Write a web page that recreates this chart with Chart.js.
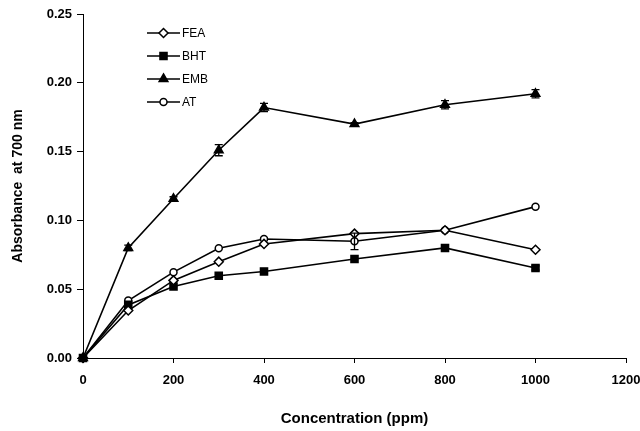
<!DOCTYPE html>
<html><head><meta charset="utf-8">
<script src="https://cdn.jsdelivr.net/npm/chart.js@4.4.1/dist/chart.umd.min.js"></script>
<style>html,body{margin:0;padding:0;background:#fff}#wrap{width:640px;height:431px}</style>
</head><body><div id="wrap"><canvas id="c" width="640" height="431"></canvas></div>
<script>
const concentrations = [0, 100, 200, 300, 400, 600, 800, 1000];
const feaValues = [0, 0.0345, 0.0564, 0.070, 0.0829, 0.0904, 0.0928, 0.0787];
const bhtValues = [0, 0.0386, 0.052, 0.0598, 0.0629, 0.072, 0.080, 0.0654];
const embValues = [0, 0.080, 0.1157, 0.151, 0.182, 0.170, 0.184, 0.192];
const atValues  = [0, 0.0418, 0.0624, 0.0797, 0.0865, 0.0848, 0.0928, 0.110];
const embErrors = [0, 0.002, 0.0015, 0.004, 0.003, 0.001, 0.003, 0.003];
const atErrors  = [0, 0, 0, 0, 0, 0.006, 0, 0];
const bhtErrors = [0, 0, 0, 0, 0, 0, 0, 0.0015];
const xTickValues = [0, 200, 400, 600, 800, 1000, 1200];
const yTickValues = [0, 0.05, 0.10, 0.15, 0.20, 0.25];
const seriesNames = ['FEA', 'BHT', 'EMB', 'AT'];

function pts(vals) { return concentrations.map((x, i) => ({x: x, y: vals[i]})); }

const FONT = "'Liberation Sans', Arial, sans-serif";

const styles = [
  {pointStyle: 'rectRot', radius: 4.5, bg: '#fff'},
  {pointStyle: 'rect', radius: 5, bg: '#000'},
  {pointStyle: 'triangle', radius: 5, bg: '#000'},
  {pointStyle: 'circle', radius: 3.5, bg: '#fff'}
];
const valueSets = [feaValues, bhtValues, embValues, atValues];
const errorSets = [null, bhtErrors, embErrors, atErrors];

const datasets = seriesNames.map((name, i) => ({
  label: name,
  data: pts(valueSets[i]),
  borderColor: '#000',
  backgroundColor: styles[i].bg,
  legendBg: styles[i].bg,
  pointBackgroundColor: c => (c.dataIndex === 0 ? '#000' : styles[i].bg),
  pointBorderColor: '#000',
  pointBorderWidth: 1.5,
  borderWidth: 1.6,
  pointStyle: styles[i].pointStyle,
  pointRadius: styles[i].radius,
  pointHoverRadius: styles[i].radius,
  errors: errorSets[i],
  tension: 0,
  fill: false,
  clip: false
}));

function drawMarker(ctx, style, r, bg, x, y) {
  ctx.save();
  ctx.fillStyle = bg; ctx.strokeStyle = '#000'; ctx.lineWidth = 1.5;
  ctx.beginPath();
  if (style === 'circle') { ctx.arc(x, y, r, 0, Math.PI * 2); }
  else if (style === 'rect') { const s = r * Math.SQRT1_2 * 2; ctx.rect(x - s/2, y - s/2, s, s); }
  else if (style === 'rectRot') { ctx.moveTo(x, y - r); ctx.lineTo(x + r, y); ctx.lineTo(x, y + r); ctx.lineTo(x - r, y); ctx.closePath(); }
  else if (style === 'triangle') { ctx.moveTo(x, y - r); ctx.lineTo(x + r * 0.87, y + r * 0.5); ctx.lineTo(x - r * 0.87, y + r * 0.5); ctx.closePath(); }
  ctx.fill(); ctx.stroke();
  ctx.restore();
}

const errorBarPlugin = {
  id: 'errorBars',
  afterDatasetsDraw(chart) {
    const ctx = chart.ctx, xs = chart.scales.x, ys = chart.scales.y;
    ctx.save();
    ctx.strokeStyle = '#000'; ctx.lineWidth = 1.3;
    chart.data.datasets.forEach(ds => {
      if (!ds.errors) return;
      ds.data.forEach((p, i) => {
        const e = ds.errors[i];
        if (!e) return;
        const px = xs.getPixelForValue(p.x);
        const y1 = ys.getPixelForValue(p.y + e), y2 = ys.getPixelForValue(p.y - e);
        ctx.beginPath();
        ctx.moveTo(px, y1); ctx.lineTo(px, y2);
        ctx.moveTo(px - 4, y1); ctx.lineTo(px + 4, y1);
        ctx.moveTo(px - 4, y2); ctx.lineTo(px + 4, y2);
        ctx.stroke();
      });
    });
    ctx.restore();
  }
};

const legendPlugin = {
  id: 'innerLegend',
  afterDraw(chart) {
    const ctx = chart.ctx;
    const x0 = 147, x1 = 180, y0 = 33, dy = 23;
    ctx.save();
    chart.data.datasets.forEach((ds, i) => {
      const y = y0 + i * dy;
      ctx.strokeStyle = '#000'; ctx.lineWidth = 1.6;
      ctx.beginPath(); ctx.moveTo(x0, y); ctx.lineTo(x1, y); ctx.stroke();
      drawMarker(ctx, ds.pointStyle, ds.pointRadius, ds.legendBg, (x0 + x1) / 2, y);
      ctx.fillStyle = '#000';
      ctx.font = '12px ' + FONT;
      ctx.textBaseline = 'middle';
      ctx.textAlign = 'left';
      ctx.fillText(ds.label, x1 + 2, y + 1);
    });
    ctx.restore();
  }
};

new Chart(document.getElementById('c'), {
  type: 'line',
  data: {datasets: datasets},
  options: {
    responsive: false,
    devicePixelRatio: 1,
    animation: false,
    events: [],
    layout: {padding: {top: 14, right: 14, left: 0, bottom: 0}},
    plugins: {legend: {display: false}, tooltip: {enabled: false}},
    scales: {
      x: {
        type: 'linear', min: 0, max: 1200,
        afterBuildTicks: s => { s.ticks = xTickValues.map(v => ({value: v})); },
        afterFit: s => { s.height = 73; s.paddingRight = 0; s.paddingLeft = 0; },
        ticks: {color: '#000', font: {family: FONT, size: 13, weight: 'bold'}, padding: 10, maxRotation: 0,
                callback: v => String(v)},
        grid: {display: true, drawOnChartArea: false, drawTicks: true, tickLength: 5, color: '#000'},
        border: {display: true, color: '#000', width: 1},
        title: {display: true, text: 'Concentration (ppm)', color: '#000',
                font: {family: FONT, size: 15, weight: 'bold'}, padding: {top: 4, bottom: 3}}
      },
      y: {
        type: 'linear', min: 0, max: 0.25,
        afterBuildTicks: s => { s.ticks = yTickValues.map(v => ({value: v})); },
        afterFit: s => { s.width = 83; },
        ticks: {color: '#000', font: {family: FONT, size: 13, weight: 'bold'}, padding: 5,
                callback: v => Number(v).toFixed(2)},
        grid: {display: true, drawOnChartArea: false, drawTicks: true, tickLength: 6, color: '#000'},
        border: {display: true, color: '#000', width: 1},
        title: {display: true, text: 'Absorbance  at 700 nm', color: '#000',
                font: {family: FONT, size: 14, weight: 'bold'}, padding: {top: 10, bottom: 4}}
      }
    }
  },
  plugins: [errorBarPlugin, legendPlugin]
});
</script>
</body></html>
